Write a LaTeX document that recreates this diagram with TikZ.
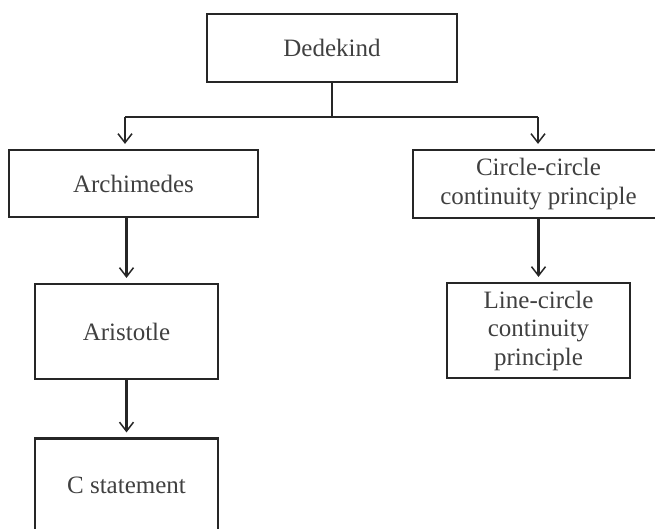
\documentclass[tikz,border=0pt]{standalone}
\usepackage{fontspec}
\setmainfont{Liberation Serif}
\usetikzlibrary{arrows.meta}

\begin{document}
\begin{tikzpicture}[x=1pt,y=-1pt]
    \tikzstyle{every node}=[draw=black!85,line width=2.2pt,inner sep=0pt,align=center,text=black!75,font=\fontsize{25}{28.5}\selectfont]
    \tikzstyle{link}=[draw=black!85,line width=2.2pt]
    \tikzstyle{arr}=[link,-{Straight Barb[length=9pt,width=14pt,line width=1.5pt]},shorten >=5pt]
    \useasboundingbox (0,0) rectangle (655,529);
    \draw (332,48) node[minimum width=250pt,minimum height=68pt] (dedekind) {Dedekind};
    \draw (133.5,183.5) node[minimum width=249pt,minimum height=67pt] (archimedes) {Archimedes};
    \draw (538.5,184) node[minimum width=251pt,minimum height=68pt] (circlecircle) {Circle-circle\\continuity principle};
    \draw (126.5,331.5) node[minimum width=183pt,minimum height=95pt] (aristotle) {Aristotle};
    \draw (538.5,330.5) node[minimum width=183pt,minimum height=95pt] (linecircle) {Line-circle\\continuity\\principle};
    \draw (126.5,485) node[minimum width=183pt,minimum height=93pt] (cstatement) {C statement};
    \coordinate (split) at (332,117);
    \coordinate (lefttop) at (125,117);
    \coordinate (righttop) at (538,117);
    \draw[link] (dedekind) -- (split);
    \draw[link] (lefttop) -- (righttop);
    \draw[arr] (lefttop) -- (lefttop |- archimedes.north);
    \draw[arr] (righttop) -- (righttop |- circlecircle.north);
    \draw[arr] (archimedes.south -| aristotle.north) -- (aristotle.north);
    \draw[arr] (aristotle) -- (cstatement);
    \draw[arr] (circlecircle) -- (linecircle);
\end{tikzpicture}
\end{document}
